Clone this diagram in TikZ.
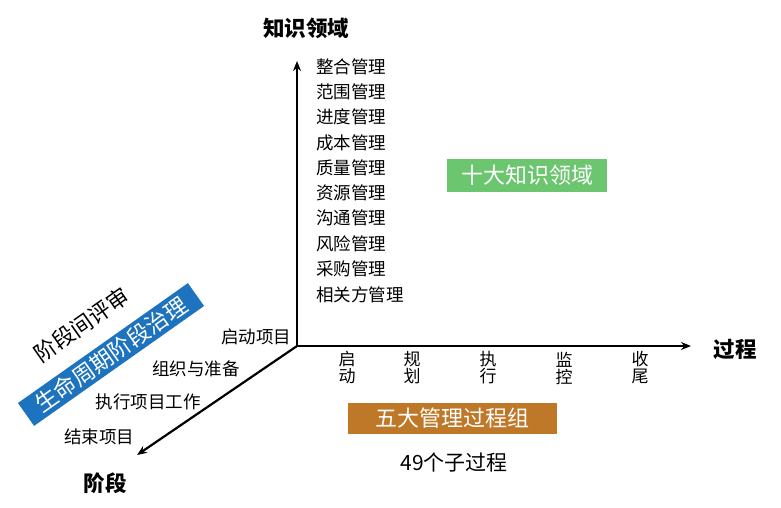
\documentclass[tikz,border=0pt]{standalone}
\usepackage{fontspec}
\setmainfont{Noto Sans CJK SC}
\usetikzlibrary{arrows.meta}
\definecolor{kgreen}{RGB}{108,198,112}
\definecolor{kbrown}{RGB}{190,120,40}
\definecolor{kblue}{RGB}{30,115,190}
\tikzset{
  axis/.style={line width=2.2pt, -{Stealth[length=10pt,width=8pt]}},
  item/.style={font=\fontsize{17.5}{19}\selectfont, inner sep=0pt, anchor=west},
  title/.style={font=\fontsize{21.5}{23}\selectfont\bfseries, inner sep=0pt},
  proc/.style={font=\fontsize{17}{17}\selectfont, inner sep=0pt, align=center},
  stage/.style={font=\fontsize{17.5}{19}\selectfont, inner sep=0pt},
  boxlabel/.style={text=white, inner sep=0pt, font=\fontsize{22}{24}\selectfont}
}
\begin{document}
\begin{tikzpicture}[x=1pt,y=-1pt]
\useasboundingbox (0,0) rectangle (781,507);
\coordinate (o) at (297,346);
\coordinate (ktop) at (297,61);
\coordinate (pend) at (691,346);
\coordinate (send) at (137,455);
\draw[axis] (o) -- (ktop);
\draw[axis] (o) -- (pend);
\draw[axis] (o) -- (send);

\node[title] (kt) at (306,28) {知识领域};
\node[title] (pt) at (735,349) {过程};
\node[title] (st) at (105,483) {阶段};

\node[item] (k1) at (316,67) {整合管理};
\node[item] (k2) at (316,92) {范围管理};
\node[item] (k3) at (316,117) {进度管理};
\node[item] (k4) at (316,143) {成本管理};
\node[item] (k5) at (316,168) {质量管理};
\node[item] (k6) at (316,193) {资源管理};
\node[item] (k7) at (316,218) {沟通管理};
\node[item] (k8) at (316,244) {风险管理};
\node[item] (k9) at (316,269) {采购管理};
\node[item] (k10) at (316,295) {相关方管理};

\node[boxlabel, fill=kgreen, minimum width=160pt, minimum height=33pt] (kg) at (527,175.5) {十大知识领域};

\node[proc] (p1) at (347,368) {启\\动};
\node[proc] (p2) at (412,368) {规\\划};
\node[proc] (p3) at (488,368) {执\\行};
\node[proc] (p4) at (564,368) {监\\控};
\node[proc] (p5) at (640,368) {收\\尾};

\node[boxlabel, fill=kbrown, minimum width=209pt, minimum height=31pt] (pg) at (452.5,418.5) {五大管理过程组};
\node[font=\fontsize{21}{23}\selectfont, inner sep=0pt] (sub) at (454,462) {49个子过程};

\node[stage] (s1) at (256,337) {启动项目};
\node[stage] (s2) at (196,369) {组织与准备};
\node[stage] (s3) at (148,402) {执行项目工作};
\node[stage] (s4) at (99,437) {结束项目};

\node[boxlabel, fill=kblue, rotate=35.2, minimum width=208pt, minimum height=28pt, font=\fontsize{22.5}{24}\selectfont] (sg) at (111,354.5) {生命周期阶段治理};
\node[font=\fontsize{22}{24}\selectfont, inner sep=0pt, rotate=35.2] (rev) at (82,325) {阶段间评审};
\end{tikzpicture}
\end{document}
